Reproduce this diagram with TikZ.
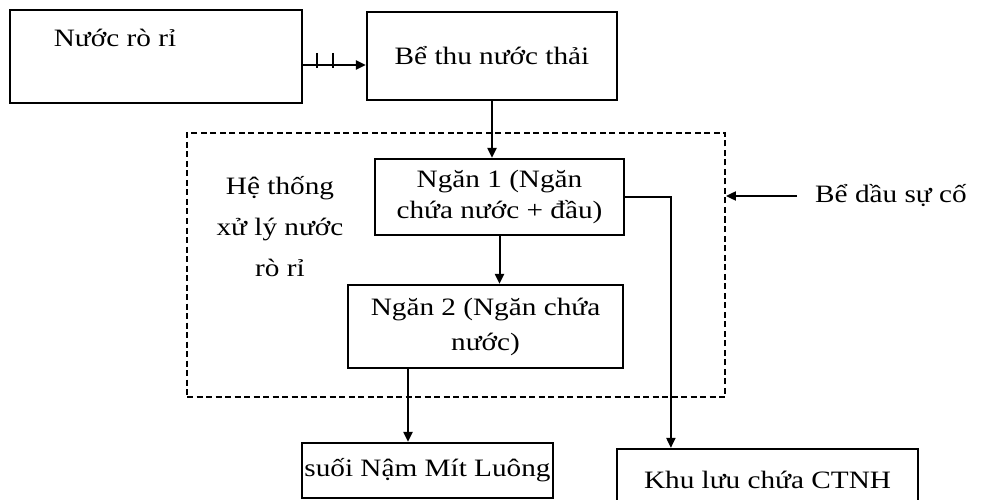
\documentclass[tikz,border=0pt]{standalone}
\usepackage{fontspec}
\setmainfont{Liberation Serif}[FakeStretch=1.17]
\usetikzlibrary{arrows.meta}
\begin{document}
\begin{tikzpicture}[x=1pt,y=-1pt,
  box/.style={draw, line width=2.2pt, inner sep=0pt, align=center, font=\fontsize{25}{31}\selectfont},
  txt/.style={inner sep=0pt, align=center, font=\fontsize{25}{31}\selectfont},
  arr/.style={line width=2pt, -{Triangle[length=10pt,width=9pt]}},
  dashbox/.style={draw, line width=1.8pt, dash pattern=on 6pt off 3.5pt, inner sep=0pt}]
\useasboundingbox (0,0) rectangle (986,500);
\clip (0,0) rectangle (986,500);
% boxes
\node[box, minimum width=292pt, minimum height=93pt] (nuoc) at (156,56.5) {};
\node[txt] (nuoctxt) at (115,38) {Nước rò rỉ};
\node[box, minimum width=250pt, minimum height=88pt] (bethu) at (492,56) {Bể thu nước thải};
\node[dashbox, minimum width=538pt, minimum height=264pt] (sys) at (456,265) {};
\node[txt, font=\fontsize{25}{41}\selectfont] (hethong) at (280,227) {Hệ thống\\xử lý nước\\rò rỉ};
\node[box, minimum width=249pt, minimum height=76pt] (n1) at (499.5,197) {Ngăn 1 (Ngăn\\chứa nước + đầu)};
\node[box, minimum width=275pt, minimum height=83pt, font=\fontsize{25}{35}\selectfont] (n2) at (485.5,326.5) {Ngăn 2 (Ngăn chứa\\nước)};
\node[box, minimum width=251pt, minimum height=55pt] (suoi) at (427.5,470.5) {suối Nậm Mít Luông};
\node[box, minimum width=301pt, minimum height=62pt] (khu) at (767.5,480) {Khu lưu chứa CTNH};
\node[txt, anchor=west] (dau) at (815,196) {Bể dầu sự cố};
% connectors
\coordinate (a1) at (302,65);
\draw[arr] (a1) -- (a1 -| bethu.west);
\draw[line width=2pt] (317,53) -- (317,68) (333,53) -- (333,68);
\draw[arr] (bethu.south) -- (bethu.south |- n1.north);
\draw[arr] (n1.south) -- (n1.south |- n2.north);
\coordinate (n2out) at ([xshift=-77.5pt]n2.south);
\draw[arr] (n2out) -- (n2out |- suoi.north);
\coordinate (khuin) at ([xshift=55pt]khu.north west);
\draw[arr] (n1.east) -| (khuin);
\coordinate (dauarr) at (797,196);
\draw[arr] (dauarr) -- (dauarr -| sys.east);
\end{tikzpicture}
\end{document}
